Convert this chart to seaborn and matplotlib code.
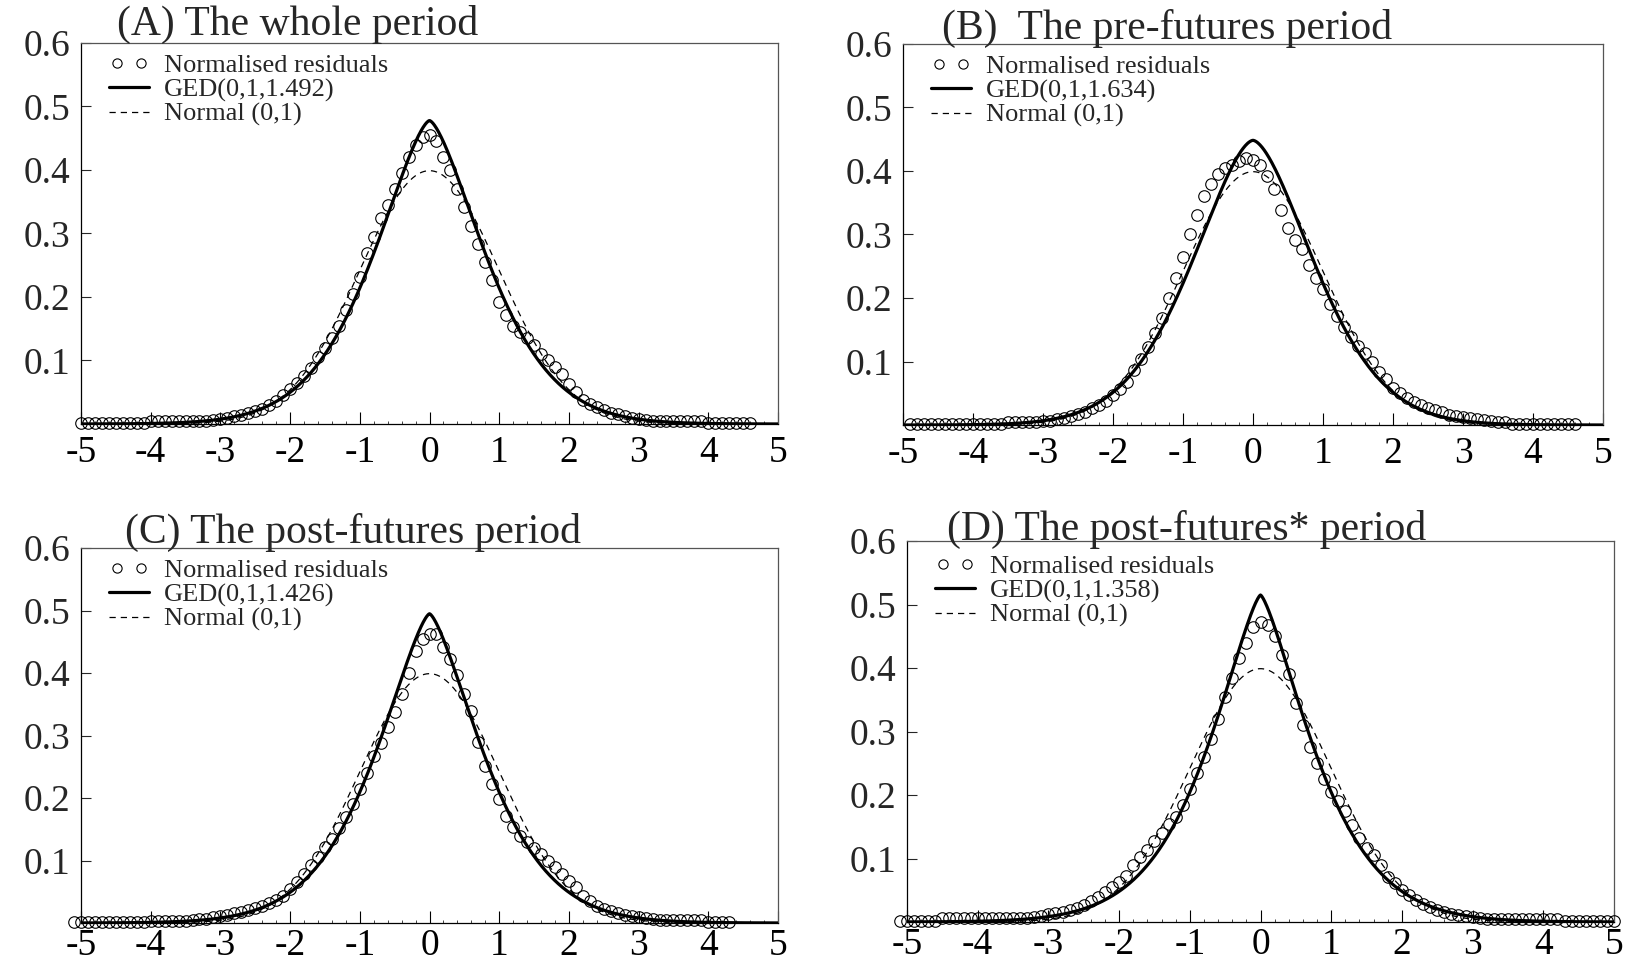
import math
import numpy as np
import pandas as pd
import matplotlib
matplotlib.use("Agg")
import matplotlib.pyplot as plt
import seaborn as sns
from matplotlib.ticker import MultipleLocator
from matplotlib.legend_handler import HandlerLine2D

sns.set_style("white")
plt.rcParams["font.family"] = ["Liberation Serif", "DejaVu Serif"]
plt.rcParams["mathtext.fontset"] = "stix"

# ---------------- data ----------------
titles = ["(A) The whole period", "(B)  The pre-futures period",
          "(C) The post-futures period", "(D) The post-futures* period"]
ged_shape = [1.492, 1.634, 1.426, 1.358]
ged_labels = ["GED(0,1,1.492)", "GED(0,1,1.634)", "GED(0,1,1.426)", "GED(0,1,1.358)"]

# first x value of the residual density points (step 0.1)
resid_x_start = [-5.0, -4.9, -5.1, -5.1]

resid_A = [0.001]*10 + [0.004]*8 + [
    0.005, 0.006, 0.008, 0.010, 0.012, 0.014, 0.017, 0.020, 0.024, 0.030,
    0.036, 0.046, 0.055, 0.064, 0.075, 0.088, 0.105, 0.120, 0.135, 0.155,
    0.180, 0.205, 0.232, 0.270, 0.295, 0.325, 0.345, 0.370, 0.396, 0.420,
    0.440, 0.452, 0.455, 0.445, 0.420, 0.400, 0.370, 0.342, 0.312, 0.283,
    0.255, 0.227, 0.192, 0.172, 0.155, 0.145, 0.135, 0.125, 0.110, 0.100,
    0.090, 0.078, 0.063, 0.050, 0.038, 0.032, 0.027, 0.022, 0.018, 0.015,
    0.012, 0.010, 0.008, 0.006, 0.005] + [0.004]*7 + [0.001]*7

resid_B = [0.002]*14 + [0.005]*5 + [
    0.006, 0.007, 0.009, 0.011, 0.014, 0.017, 0.021, 0.026, 0.031, 0.038,
    0.047, 0.056, 0.068, 0.086, 0.104, 0.123, 0.145, 0.168, 0.200, 0.231,
    0.265, 0.300, 0.330, 0.360, 0.380, 0.395, 0.405, 0.410, 0.416, 0.420,
    0.418, 0.410, 0.392, 0.372, 0.338, 0.310, 0.292, 0.277, 0.252, 0.232,
    0.214, 0.190, 0.172, 0.154, 0.138, 0.125, 0.113, 0.100, 0.083, 0.072,
    0.058, 0.050, 0.042, 0.036, 0.031, 0.027, 0.023, 0.020, 0.016, 0.014,
    0.012, 0.011, 0.010, 0.008, 0.006, 0.005, 0.004] + [0.002]*10

resid_C = [0.001]*11 + [0.004]*6 + [
    0.005, 0.006, 0.007, 0.009, 0.011, 0.013, 0.016, 0.018, 0.021, 0.024,
    0.028, 0.032, 0.037, 0.043, 0.054, 0.066, 0.078, 0.093, 0.106, 0.121,
    0.135, 0.152, 0.170, 0.190, 0.214, 0.240, 0.268, 0.288, 0.314, 0.338,
    0.366, 0.400, 0.436, 0.455, 0.462, 0.462, 0.442, 0.423, 0.397, 0.367,
    0.340, 0.290, 0.252, 0.222, 0.198, 0.172, 0.153, 0.140, 0.130, 0.120,
    0.111, 0.100, 0.090, 0.079, 0.067, 0.057, 0.044, 0.035, 0.028, 0.023,
    0.019, 0.016, 0.013, 0.011, 0.009, 0.008, 0.007] + [0.005]*7 + [0.001]*4

resid_D = [0.002]*6 + [0.006]*12 + [
    0.007, 0.008, 0.010, 0.012, 0.014, 0.016, 0.019, 0.022, 0.026, 0.033,
    0.040, 0.047, 0.055, 0.063, 0.072, 0.090, 0.103, 0.114, 0.127, 0.140,
    0.155, 0.165, 0.185, 0.210, 0.235, 0.260, 0.288, 0.320, 0.355, 0.385,
    0.415, 0.440, 0.465, 0.473, 0.467, 0.450, 0.420, 0.390, 0.345, 0.310,
    0.275, 0.250, 0.225, 0.205, 0.191, 0.175, 0.153, 0.133, 0.116, 0.105,
    0.090, 0.071, 0.062, 0.051, 0.042, 0.034, 0.029, 0.023, 0.019, 0.016,
    0.013, 0.011, 0.009, 0.008, 0.007] + [0.005]*11 + [0.002]*8

resid_series = [resid_A, resid_B, resid_C, resid_D]
x_ticks = [-5, -4, -3, -2, -1, 0, 1, 2, 3, 4, 5]
y_ticks = [0.1, 0.2, 0.3, 0.4, 0.5, 0.6]


def ged_pdf(x, nu):
    lam = math.sqrt(2 ** (-2.0 / nu) * math.gamma(1.0 / nu) / math.gamma(3.0 / nu))
    c = nu / (lam * 2 ** (1 + 1.0 / nu) * math.gamma(1.0 / nu))
    return c * np.exp(-0.5 * np.abs(x / lam) ** nu)


def normal_pdf(x):
    return np.exp(-0.5 * x ** 2) / math.sqrt(2 * math.pi)


# ---------------- layout ----------------
W, H = 1632, 971
fig = plt.figure(figsize=(W / 100, H / 100), dpi=100)

# axes boxes in pixels: left, top, right, bottom
boxes = [(81, 43, 778, 424), (903, 44, 1603, 425),
         (81, 548, 778, 923), (907, 541, 1614, 922)]
title_pos = [(117, 24), (942, 28), (125, 532), (947, 529)]
legend_top = [54, 55, 559, 555]
xlabel_pad = [8, 8, 4, 4]

tick_fs = 27
for i in range(4):
    l, t, r, b = boxes[i]
    ax = fig.add_axes([l / W, 1 - b / H, (r - l) / W, (b - t) / H])
    xg = np.linspace(-5, 5, 1001)
    xs = resid_x_start[i] + 0.1 * np.arange(len(resid_series[i]))
    df_r = pd.DataFrame({"x": xs, "y": resid_series[i]})
    df_g = pd.DataFrame({"x": xg, "y": ged_pdf(xg, ged_shape[i])})
    df_n = pd.DataFrame({"x": xg, "y": normal_pdf(xg)})

    sns.lineplot(data=df_n, x="x", y="y", ax=ax, color="black", lw=0.9,
                 dashes=False, linestyle=(0, (5, 4)), estimator=None, sort=False,
                 label="Normal (0,1)", zorder=2)
    sns.lineplot(data=df_g, x="x", y="y", ax=ax, color="black", lw=2.3,
                 estimator=None, sort=False, label=ged_labels[i], zorder=3)
    sns.lineplot(data=df_r, x="x", y="y", ax=ax, color="black", linestyle="",
                 marker="o", markersize=8.3, markerfacecolor="none",
                 markeredgecolor="black", markeredgewidth=0.8,
                 estimator=None, sort=False, label="Normalised residuals",
                 clip_on=False, zorder=4)

    ax.set_xlim(-5, 5)
    ax.set_ylim(0, 0.6)
    ax.set_xticks(x_ticks)
    ax.set_xticklabels([str(v) for v in x_ticks])
    ax.set_yticks(y_ticks)
    ax.set_yticklabels([f"{v:.1f}" for v in y_ticks])
    ax.xaxis.set_minor_locator(MultipleLocator(0.2))
    ax.tick_params(axis="x", which="major", direction="in", length=9, width=0.8,
                   labelsize=tick_fs, pad=xlabel_pad[i], bottom=True, colors="black")
    ax.tick_params(axis="x", which="minor", direction="in", length=2.5, width=0.6,
                   bottom=True)
    ax.tick_params(axis="y", which="major", direction="in", length=7, width=0.8,
                   labelsize=tick_fs, pad=8, left=True)
    ax.set_xlabel("")
    ax.set_ylabel("")
    for s in ax.spines.values():
        s.set_visible(True)
        s.set_color("black")
        s.set_linewidth(0.9)
    ax.spines["top"].set_color("#555555")
    ax.spines["right"].set_color("#555555")

    handles, labels = ax.get_legend_handles_labels()
    order = [2, 1, 0]
    hs = [handles[k] for k in order]
    ax.legend(hs, [labels[k] for k in order],
              loc="upper left",
              bbox_to_anchor=(20 / (r - l), 1 - (legend_top[i] - t) / (b - t)),
              frameon=False, fontsize=19, handlelength=2.1, handletextpad=0.3,
              labelspacing=0.02, borderpad=0, borderaxespad=0, numpoints=2,
              markerscale=0.8,
              handler_map={hs[0]: HandlerLine2D(numpoints=2, marker_pad=0.6)})

    fig.text(title_pos[i][0] / W, 1 - title_pos[i][1] / H, titles[i],
             fontsize=30, ha="left", va="center")

fig.savefig("out.png", dpi=100)
